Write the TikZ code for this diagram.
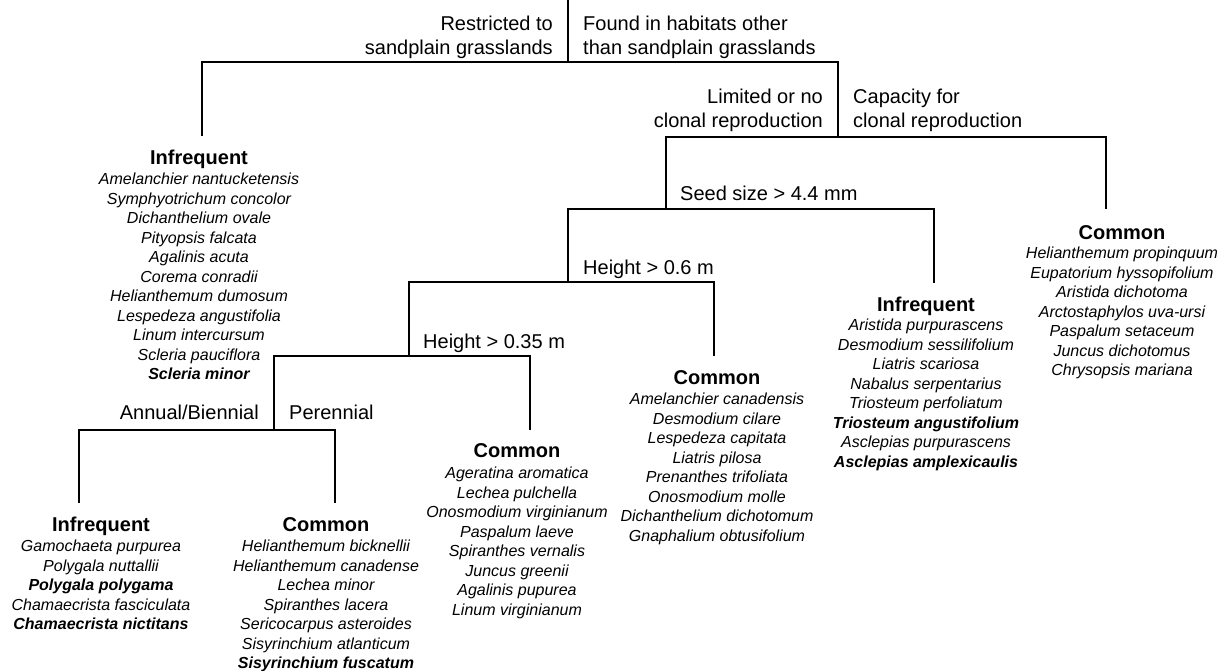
\documentclass[tikz,border=0pt]{standalone}
\usepackage{fontspec}
\setmainfont{Liberation Sans}
\tikzset{
  lbl/.style={font=\fontsize{20}{24}\selectfont, inner sep=0pt},
  hd/.style={font=\fontsize{20}{24}\selectfont\bfseries, inner sep=0pt, anchor=base},
  sp/.style={font=\fontsize{16}{19.5}\selectfont\itshape, inner sep=0pt, anchor=base},
  br/.style={line width=1.2pt}
}
\newcommand\splist[4]{%
  \foreach \t [count=\i] in {#4} {\node[sp, name=#1\i] at (#2, {#3 + 5.8 + (\i-1)*19.5}) {\t};}}
\begin{document}
\begin{tikzpicture}[x=1pt, y=-1pt]
\useasboundingbox (0,0) rectangle (1225,670);
% junctions and leaf ends
\coordinate (T) at (568,0);
\coordinate (J0) at (568,62);
\coordinate (J1) at (838,137);
\coordinate (J2) at (666,209);
\coordinate (J3) at (568,282);
\coordinate (J4) at (409,356);
\coordinate (J5) at (274,430);
\coordinate (E1) at (202,136);
\coordinate (E2) at (1106,209);
\coordinate (E3) at (934,283);
\coordinate (E4) at (714,356);
\coordinate (E5) at (530,430);
\coordinate (E6) at (79,503);
\coordinate (E7) at (335,503);
\draw[br] (T) -- (J0);
\draw[br] (E1) |- (J0) -| (J1);
\draw[br] (J2) |- (J1) -| (E2);
\draw[br] (J3) |- (J2) -| (E3);
\draw[br] (J4) |- (J3) -| (E4);
\draw[br] (J5) |- (J4) -| (E5);
\draw[br] (E6) |- (J5) -| (E7);
% split labels
\node[lbl, anchor=base east] (ra) at (553,30.2) {Restricted to};
\node[lbl, anchor=base east] (rb) at (553,54.2) {sandplain grasslands};
\node[lbl, anchor=base west] (fa) at (583,30.2) {Found in habitats other};
\node[lbl, anchor=base west] (fb) at (583,54.2) {than sandplain grasslands};
\node[lbl, anchor=base east] (la) at (823,103.2) {Limited or no};
\node[lbl, anchor=base east] (lb) at (823,127.2) {clonal reproduction};
\node[lbl, anchor=base west] (ca) at (853,103.2) {Capacity for};
\node[lbl, anchor=base west] (cb) at (853,127.2) {clonal reproduction};
\node[lbl, anchor=base west] (seed) at (680,200.2) {Seed size > 4.4 mm};
\node[lbl, anchor=base west] (h6) at (583,274.2) {Height > 0.6 m};
\node[lbl, anchor=base west] (h35) at (423,348.2) {Height > 0.35 m};
\node[lbl, anchor=base east] (ann) at (259,419.2) {Annual/Biennial};
\node[lbl, anchor=base west] (per) at (289,419.2) {Perennial};
% leaf groups
\node[hd] (g1) at (199,164.2) {Infrequent};
\splist{a}{199}{179}{Amelanchier nantucketensis, Symphyotrichum concolor, Dichanthelium ovale, Pityopsis falcata, Agalinis acuta, Corema conradii, Helianthemum dumosum, Lespedeza angustifolia, Linum intercursum, Scleria pauciflora, \textbf{Scleria minor}}
\node[hd] (g2) at (1122,239.2) {Common};
\splist{b}{1122}{253}{Helianthemum propinquum, Eupatorium hyssopifolium, Aristida dichotoma, Arctostaphylos uva-ursi, Paspalum setaceum, Juncus dichotomus, Chrysopsis mariana}
\node[hd] (g3) at (926,311.2) {Infrequent};
\splist{c}{926}{325}{Aristida purpurascens, Desmodium sessilifolium, Liatris scariosa, Nabalus serpentarius, Triosteum perfoliatum, \textbf{Triosteum angustifolium}, Asclepias purpurascens, \textbf{Asclepias amplexicaulis}}
\node[hd] (g4) at (717,384.2) {Common};
\splist{d}{717}{399}{Amelanchier canadensis, Desmodium cilare, Lespedeza capitata, Liatris pilosa, Prenanthes trifoliata, Onosmodium molle, Dichanthelium dichotomum, Gnaphalium obtusifolium}
\node[hd] (g5) at (517,457.2) {Common};
\splist{e}{517}{473}{Ageratina aromatica, Lechea pulchella, Onosmodium virginianum, Paspalum laeve, Spiranthes vernalis, Juncus greenii, Agalinis pupurea, Linum virginianum}
\node[hd] (g6) at (101,531.2) {Infrequent};
\splist{f}{101}{546}{Gamochaeta purpurea, Polygala nuttallii, \textbf{Polygala polygama}, Chamaecrista fasciculata, \textbf{Chamaecrista nictitans}}
\node[hd] (g7) at (326,531.2) {Common};
\splist{g}{326}{546}{Helianthemum bicknellii, Helianthemum canadense, Lechea minor, Spiranthes lacera, Sericocarpus asteroides, Sisyrinchium atlanticum, \textbf{Sisyrinchium fuscatum}}
\end{tikzpicture}
\end{document}
